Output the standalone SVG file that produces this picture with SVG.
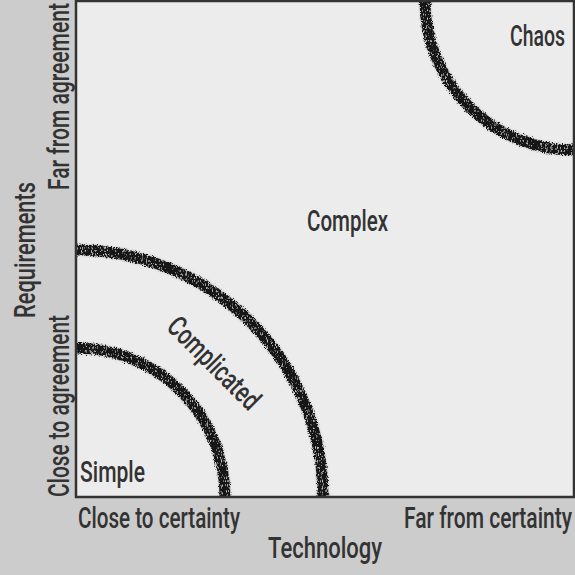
<svg xmlns="http://www.w3.org/2000/svg" width="575" height="575" viewBox="0 0 575 575">
<style>
.t{font-family:Roboto,"Liberation Sans","DejaVu Sans",sans-serif;font-weight:500;font-size:29px;fill:#333333}
.arc{fill:none;stroke:#151515;stroke-width:11;filter:url(#rough)}
</style>
<defs>
<clipPath id="box"><rect x="76" y="1" width="498" height="496"/></clipPath>
<filter id="rough" x="-10%" y="-10%" width="120%" height="120%">
<feTurbulence type="fractalNoise" baseFrequency="0.9" numOctaves="2" seed="3" result="noise"/>
<feDisplacementMap in="SourceGraphic" in2="noise" scale="5" xChannelSelector="R" yChannelSelector="G" result="disp"/>
<feGaussianBlur in="disp" stdDeviation="1.3" result="halo"/>
<feColorMatrix in="halo" type="matrix" values="0 0 0 0 0.4  0 0 0 0 0.4  0 0 0 0 0.4  0 0 0 0.7 0" result="halo2"/>
<feTurbulence type="turbulence" baseFrequency="0.8 0.3" numOctaves="2" seed="7" result="n2"/>
<feColorMatrix in="n2" type="matrix" values="0 0 0 0 0.6  0 0 0 0 0.6  0 0 0 0 0.6  0 0 0 3 -1.1" result="spk"/>
<feComposite in="spk" in2="disp" operator="in" result="spkin"/>
<feMerge><feMergeNode in="halo2"/><feMergeNode in="disp"/><feMergeNode in="spkin"/></feMerge>
</filter>
</defs>
<rect width="575" height="575" fill="#cccccc"/>
<rect x="76" y="1" width="498" height="496" fill="#ececec"/>
<g id="connectors" clip-path="url(#box)">
<path class="arc" d="M76,348 A149,149 0 0 1 225,497"/>
<path class="arc" d="M76,250 A247,247 0 0 1 323,497"/>
<path class="arc" d="M425,1 A149,149 0 0 0 574,150"/>
</g>
<rect x="76" y="1" width="498" height="496" fill="none" stroke="#333333" stroke-width="2.5"/>
<g id="simple"><text class="t" x="80" y="482" textLength="65" lengthAdjust="spacingAndGlyphs">Simple</text></g>
<g id="complicated"><text class="t" transform="translate(207,370) rotate(45)" x="0" y="0" text-anchor="middle" textLength="118" lengthAdjust="spacingAndGlyphs">Complicated</text></g>
<g id="complex"><text class="t" x="307" y="231" textLength="81" lengthAdjust="spacingAndGlyphs">Complex</text></g>
<g id="chaos"><text class="t" x="510" y="46" textLength="55" lengthAdjust="spacingAndGlyphs">Chaos</text></g>
<g id="x-axis">
<text class="t" x="78" y="528" textLength="162" lengthAdjust="spacingAndGlyphs">Close to certainty</text>
<text class="t" x="404" y="528" textLength="168" lengthAdjust="spacingAndGlyphs">Far from certainty</text>
<text class="t" x="268" y="558" textLength="114" lengthAdjust="spacingAndGlyphs">Technology</text>
</g>
<g id="y-axis">
<text class="t" transform="translate(69,497) rotate(-90)" x="0" y="0" textLength="182" lengthAdjust="spacingAndGlyphs">Close to agreement</text>
<text class="t" transform="translate(69,190) rotate(-90)" x="0" y="0" textLength="187" lengthAdjust="spacingAndGlyphs">Far from agreement</text>
<text class="t" transform="translate(35,318) rotate(-90)" x="0" y="0" textLength="136" lengthAdjust="spacingAndGlyphs">Requirements</text>
</g>
</svg>
